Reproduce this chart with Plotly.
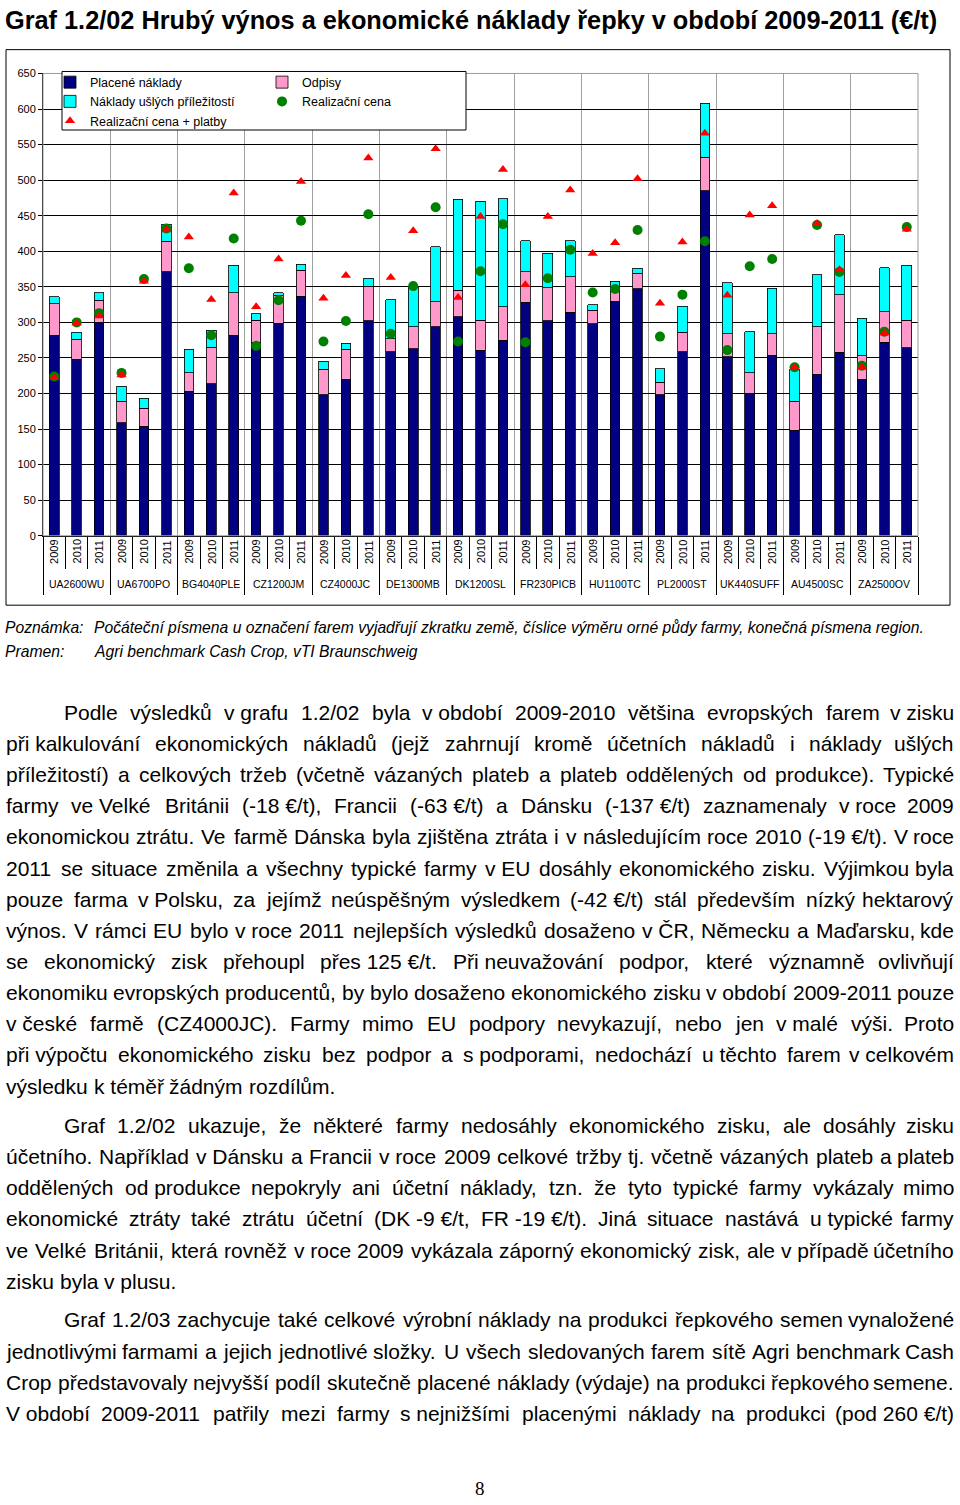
import plotly.graph_objects as go
import unicodedata

# ---------------- data ----------------
farms = ["UA2600WU", "UA6700PO", "BG4040PLE", "CZ1200JM", "CZ4000JC", "DE1300MB", "DK1200SL",
         "FR230PICB", "HU1100TC", "PL2000ST", "UK440SUFF", "AU4500SC", "ZA2500OV"]
years = ["2009", "2010", "2011"]

placene_naklady = [282, 248, 300, 159, 154, 371, 203, 214, 282, 272, 299, 337, 198, 220, 302,
                   259, 263, 294, 308, 261, 275, 328, 302, 314, 298, 330, 347, 198, 259, 485,
                   252, 200, 254, 148, 227, 258, 220, 272, 264]
odpisy = [44, 28, 31, 30, 25, 43, 26, 51, 60, 31, 39, 36, 36, 42, 49,
          18, 31, 35, 37, 42, 47, 43, 47, 50, 19, 13, 22, 18, 27, 47,
          32, 29, 30, 41, 67, 81, 33, 43, 39]
naklady_uslych = [10, 10, 11, 21, 14, 24, 33, 24, 38, 9, 4, 9, 11, 9, 11,
                  55, 57, 77, 128, 167, 152, 44, 48, 51, 8, 15, 7, 19, 37, 76,
                  72, 58, 64, 45, 73, 84, 53, 62, 77]
realizacni_cena = [224, 300, 313, 229, 361, 432, 376, 282, 418, 267, 331, 443, 273, 302, 452,
                   284, 351, 462, 273, 372, 438, 272, 362, 402, 342, 347, 430, 280, 339, 414,
                   261, 379, 389, 237, 437, 371, 239, 287, 434]
realizacni_cena_platby = [222, 299, 309, 226, 358, 430, 420, 332, 482, 322, 389, 498, 334, 366, 531,
                          363, 429, 544, 335, 449, 515, 353, 449, 486, 397, 412, 502, 327, 413, 566,
                          338, 451, 464, 237, 439, 374, 237, 285, 431]
y_ticks = list(range(0, 651, 50))

title_text = "Graf 1.2/02 Hrubý výnos a ekonomické náklady řepky v období 2009-2011 (€/t)"
note_label = "Poznámka:"
note_text = "Počáteční písmena u označení farem vyjadřují zkratku země, číslice výměru orné půdy farmy, konečná písmena region."
source_label = "Pramen:"
source_text = "Agri benchmark Cash Crop, vTI Braunschweig"
page_number = "8"

# '~' marks a non-breaking space (not stretched by justification)
paragraph1 = [
    "Podle výsledků v~grafu 1.2/02 byla v~období 2009-2010 většina evropských farem v~zisku",
    "při~kalkulování ekonomických nákladů (jejž zahrnují kromě účetních nákladů i náklady ušlých",
    "příležitostí) a celkových tržeb (včetně vázaných plateb a plateb oddělených od produkce). Typické",
    "farmy ve~Velké Británii (-18~€/t), Francii (-63~€/t) a Dánsku (-137~€/t) zaznamenaly v~roce 2009",
    "ekonomickou ztrátu. Ve farmě Dánska byla zjištěna ztráta i v následujícím roce 2010 (-19~€/t). V roce",
    "2011 se situace změnila a všechny typické farmy v~EU dosáhly ekonomického zisku. Výjimkou byla",
    "pouze farma v~Polsku, za jejímž neúspěšným výsledkem (-42~€/t) stál především nízký hektarový",
    "výnos. V rámci EU bylo v~roce 2011 nejlepších výsledků dosaženo v~ČR, Německu a Maďarsku, kde",
    "se ekonomický zisk přehoupl přes~125~€/t. Při~neuvažování podpor, které významně ovlivňují",
    "ekonomiku evropských producentů, by bylo dosaženo ekonomického zisku v~období 2009-2011 pouze",
    "v~české farmě (CZ4000JC). Farmy mimo EU podpory nevykazují, nebo jen v~malé výši. Proto",
    "při~výpočtu ekonomického zisku bez podpor a s~podporami, nedochází u~těchto farem v~celkovém",
    "výsledku k~téměř žádným rozdílům.",
]
paragraph2 = [
    "Graf 1.2/02 ukazuje, že některé farmy nedosáhly ekonomického zisku, ale dosáhly zisku",
    "účetního. Například v~Dánsku a Francii v~roce 2009 celkové tržby tj. včetně vázaných plateb a plateb",
    "oddělených od~produkce nepokryly ani účetní náklady, tzn. že tyto typické farmy vykázaly mimo",
    "ekonomické ztráty také ztrátu účetní (DK~-9~€/t, FR~-19~€/t). Jiná situace nastává u~typické farmy",
    "ve Velké Británii, která rovněž v~roce 2009 vykázala záporný ekonomický zisk, ale v~případě účetního",
    "zisku byla v~plusu.",
]
paragraph3 = [
    "Graf 1.2/03 zachycuje také celkové výrobní náklady na produkci řepkového semen vynaložené",
    "jednotlivými farmami a jejich jednotlivé složky. U všech sledovaných farem sítě Agri benchmark Cash",
    "Crop představovaly nejvyšší podíl skutečně placené náklady (výdaje) na produkci řepkového semene.",
    "V~období 2009-2011 patřily mezi farmy s~nejnižšími placenými náklady na produkci (pod~260~€/t)",
]

# ---------------- geometry helpers ----------------
W_PX, H_PX = 960, 1505


def px(x):
    return x / W_PX


def py(y):
    return 1 - y / H_PX


FONT = "Liberation Sans, Arial, sans-serif"

WID = {' ': 278, '!': 278, '(': 333, ')': 333, ',': 278, '-': 333, '.': 278, '/': 278, ':': 278,
       '€': 556, 'í': 278, 'Í': 278, 'ď': 615}
for d in "0123456789":
    WID[d] = 556
for ch, w in zip("abcdefghijklmnopqrstuvwxyz",
                 [556, 556, 500, 556, 556, 278, 556, 556, 222, 222, 500, 222, 833, 556, 556, 556, 556,
                  333, 500, 278, 556, 500, 722, 500, 500, 500]):
    WID[ch] = w
for ch, w in zip("ABCDEFGHIJKLMNOPQRSTUVWXYZ",
                 [667, 667, 722, 722, 667, 611, 778, 722, 278, 500, 667, 556, 833, 722, 778, 667, 778,
                  722, 667, 611, 722, 667, 944, 667, 667, 611]):
    WID[ch] = w


def text_width(s, size):
    tot = 0
    for ch in s:
        if ch in WID:
            tot += WID[ch]
        else:
            base = unicodedata.normalize('NFD', ch)[0]
            tot += WID.get(base, 556)
    return tot * size / 1000.0


annotations = []
BODY = 21


def add_line(text, x0, x1, yc, justify):
    words = text.split(' ')
    disp = [w.replace('~', ' ') for w in words]
    widths = [text_width(d, BODY) for d in disp]
    n = len(disp)
    if justify and n > 1:
        gap = (x1 - x0 - sum(widths)) / (n - 1)
    else:
        gap = 278 * BODY / 1000.0
    x = x0
    for i, d in enumerate(disp):
        if justify and n > 1 and i == n - 1:
            annotations.append(dict(text=d, x=px(x1), y=py(yc), xref='paper', yref='paper',
                                    xanchor='right', yanchor='middle', showarrow=False, borderpad=0,
                                    font=dict(family=FONT, size=BODY, color='black')))
        else:
            annotations.append(dict(text=d, x=px(x), y=py(yc), xref='paper', yref='paper',
                                    xanchor='left', yanchor='middle', showarrow=False, borderpad=0,
                                    font=dict(family=FONT, size=BODY, color='black')))
        x += widths[i] + gap


def add_paragraph(lines, y_start, last_justified=False):
    for i, line in enumerate(lines):
        x0 = 63 if i == 0 else 5
        last = (i == len(lines) - 1)
        add_line(line, x0, 955, y_start + i * 31.4, justify=(not last) or last_justified)


add_paragraph(paragraph1, 712)
add_paragraph(paragraph2, 1128.5)
add_paragraph(paragraph3, 1324.5, last_justified=True)

# title, notes, page number
annotations.append(dict(text=title_text, x=px(4), y=py(14), xref='paper', yref='paper',
                        xanchor='left', yanchor='middle', showarrow=False, borderpad=0,
                        font=dict(family=FONT, size=25.3, color='black', weight='bold')))
NOTE = 15.7
for lab, txt, yy in [(note_label, note_text, 626), (source_label, source_text, 651)]:
    annotations.append(dict(text=lab, x=px(4), y=py(yy), xref='paper', yref='paper',
                            xanchor='left', yanchor='middle', showarrow=False, borderpad=0,
                            font=dict(family=FONT, size=NOTE, color='black', style='italic')))
    annotations.append(dict(text=txt, x=px(93), y=py(yy), xref='paper', yref='paper',
                            xanchor='left', yanchor='middle', showarrow=False, borderpad=0,
                            font=dict(family=FONT, size=NOTE, color='black', style='italic')))
annotations.append(dict(text=page_number, x=px(480), y=py(1494), xref='paper', yref='paper',
                        xanchor='center', yanchor='middle', showarrow=False,
                        font=dict(family="Liberation Serif, Times New Roman, serif", size=19, color='black')))

# ---------------- chart ----------------
n = len(farms) * len(years)
xs = list(range(n))
year_labels = [years[i % 3] for i in xs]

for i in xs:
    annotations.append(dict(text=year_labels[i], x=i, y=0, xref='x', yref='y', xanchor='center',
                            yanchor='top', yshift=-3, textangle=-90, showarrow=False, borderpad=0,
                            font=dict(family=FONT, size=11, color='black')))
for k, f in enumerate(farms):
    annotations.append(dict(text=f, x=3 * k + 1, y=0, xref='x', yref='y', xanchor='center',
                            yanchor='middle', yshift=-48, showarrow=False, borderpad=0,
                            font=dict(family=FONT, size=10.5, color='black')))

fig = go.Figure()
BW = 0.43
fig.add_trace(go.Bar(x=xs, y=placene_naklady, name="Placené náklady", width=BW, legend='legend',
                     marker=dict(color='#000080', line=dict(color='black', width=0.8))))
fig.add_trace(go.Bar(x=xs, y=odpisy, name="Odpisy", width=BW, legend='legend2',
                     marker=dict(color='#FF99CC', line=dict(color='black', width=0.8))))
fig.add_trace(go.Bar(x=xs, y=naklady_uslych, name="Náklady ušlých příležitostí", width=BW, legend='legend',
                     marker=dict(color='#00FFFF', line=dict(color='black', width=0.8))))
fig.add_trace(go.Scatter(x=xs, y=realizacni_cena, name="Realizační cena", mode='markers', legend='legend2',
                         marker=dict(symbol='circle', size=10, color='#008000')))
fig.add_trace(go.Scatter(x=xs, y=realizacni_cena_platby, name="Realizační cena + platby", mode='markers',
                         legend='legend',
                         marker=dict(symbol='triangle-up', size=9, color='#FF0000')))

shapes = [
    # outer frame of the chart
    dict(type='rect', xref='paper', yref='paper', x0=px(6), x1=px(950), y0=py(604), y1=py(44),
         line=dict(color='black', width=1), fillcolor='rgba(0,0,0,0)', layer='below'),
    # plot-area border (grey)
    dict(type='rect', xref='x domain', yref='y domain', x0=0, x1=1, y0=0, y1=1,
         line=dict(color='#999999', width=1), fillcolor='rgba(0,0,0,0)'),
    # legend box
    dict(type='rect', xref='paper', yref='paper', x0=px(62), x1=px(466), y0=py(125), y1=py(66),
         line=dict(color='black', width=1), fillcolor='white', layer='above'),
]

legend_common = dict(orientation='v', xanchor='left', yanchor='top',
                     bgcolor='rgba(0,0,0,0)', borderwidth=0,
                     font=dict(family=FONT, size=12.5, color='black'),
                     itemwidth=30, traceorder='normal', tracegroupgap=0)

fig.update_layout(
    width=W_PX, height=H_PX,
    margin=dict(l=0, r=0, t=0, b=0),
    paper_bgcolor='white', plot_bgcolor='white',
    barmode='stack',
    showlegend=True,
    legend=dict(x=px(50), y=py(62), **legend_common),
    legend2=dict(x=px(262), y=py(62), **legend_common),
    xaxis=dict(domain=[px(43), px(918)], range=[-0.5, n - 0.5], tickmode='linear', tick0=-0.5, dtick=3,
               ticks='outside', ticklen=58, tickcolor='black', tickwidth=1, showticklabels=False,
               showgrid=True, gridcolor='#A0A0A0', gridwidth=1, showline=True, linecolor='black',
               linewidth=1, zeroline=False,
               minor=dict(tick0=-0.5, dtick=1, ticks='outside', ticklen=32, tickcolor='black',
                          tickwidth=1, showgrid=False)),
    yaxis=dict(domain=[py(534), py(68)], range=[0, 650], tickmode='array', tickvals=y_ticks,
               ticks='outside', ticklen=4, tickcolor='black', showgrid=True, gridcolor='black',
               gridwidth=1, showline=True, linecolor='black', linewidth=1, zeroline=False,
               tickfont=dict(family=FONT, size=11, color='black')),
    annotations=annotations,
    shapes=shapes,
    font=dict(family=FONT, color='black'),
)

fig.write_html("out.html")
